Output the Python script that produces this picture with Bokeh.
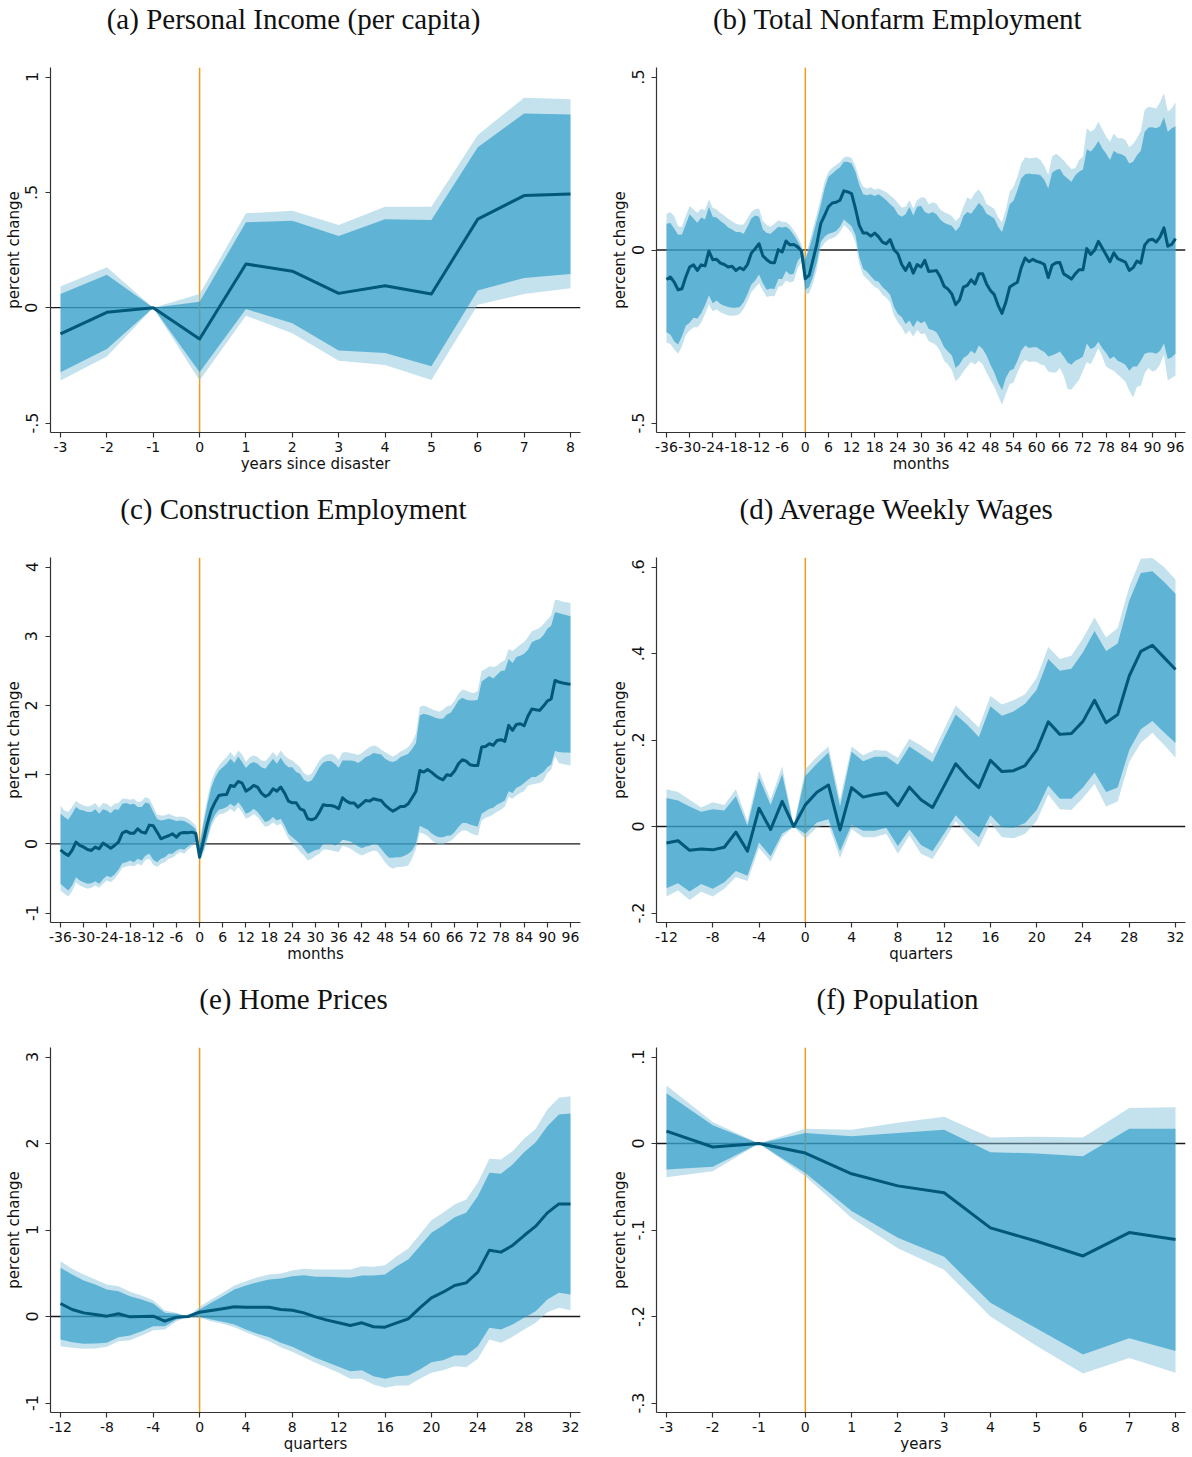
import math
from bokeh.plotting import figure
from bokeh.layouts import column, row
from bokeh.models import FixedTicker, CustomJSTickFormatter, Span, Range1d, Label
from bokeh.embed import file_html
from bokeh.resources import INLINE

# ---------------- data ----------------
years = list(range(-3, 9))
quarters = list(range(-12, 33))
months = list(range(-36, 97))

# (a) Personal Income (per capita), years
a_mean = [-0.114, -0.020, 0.0, -0.136, 0.189, 0.158, 0.062, 0.095, 0.059, 0.384, 0.486, 0.493]
a_iu = [0.059, 0.143, 0.0, 0.026, 0.370, 0.377, 0.311, 0.383, 0.380, 0.695, 0.842, 0.837]
a_ou = [0.092, 0.175, 0.0, 0.059, 0.409, 0.420, 0.358, 0.438, 0.438, 0.749, 0.910, 0.903]
a_il = [-0.280, -0.179, 0.0, -0.280, -0.006, -0.068, -0.186, -0.197, -0.254, 0.074, 0.129, 0.146]
a_ol = [-0.316, -0.212, 0.0, -0.316, -0.035, -0.111, -0.230, -0.249, -0.314, 0.013, 0.059, 0.084]

# (b) Total Nonfarm Employment, months
b_mean = [-0.085, -0.078, -0.093, -0.115, -0.112, -0.078, -0.049, -0.043, -0.059, -0.043, -0.046, -0.003,
          -0.028, -0.027, -0.038, -0.042, -0.049, -0.047, -0.059, -0.051, -0.057, -0.042, -0.009, 0.004,
          0.018, -0.017, -0.028, -0.036, -0.037, 0.001, -0.006, 0.026, 0.015, 0.016, 0.009, -0.003,
          -0.083, -0.073, -0.028, 0.018, 0.076, 0.100, 0.125, 0.136, 0.138, 0.144, 0.171, 0.168, 0.163,
          0.120, 0.071, 0.049, 0.049, 0.040, 0.049, 0.038, 0.023, 0.018, 0.030, 0.001, -0.011, -0.042,
          -0.059, -0.038, -0.067, -0.042, -0.049,
          -0.030, -0.062, -0.061, -0.059, -0.078, -0.105, -0.113, -0.127, -0.158, -0.144,
          -0.107, -0.102, -0.086, -0.098, -0.069, -0.069, -0.098, -0.117, -0.129, -0.160,
          -0.183, -0.151, -0.107, -0.100, -0.093, -0.051, -0.023, -0.034, -0.027, -0.033,
          -0.036, -0.042, -0.080, -0.044, -0.037, -0.036, -0.069, -0.076, -0.084, -0.069,
          -0.057, -0.057, 0.004, -0.013, -0.001, 0.025, 0.006, -0.014, -0.034, -0.008,
          -0.025, -0.030, -0.035, -0.059, -0.051, -0.032, -0.038, 0.014, 0.028, 0.031,
          0.023, 0.038, 0.064, 0.011, 0.016, 0.033]
b_iu = [0.076, 0.078, 0.062, 0.044, 0.045, 0.074, 0.103, 0.091, 0.079, 0.094, 0.088, 0.125,
        0.096, 0.094, 0.084, 0.076, 0.065, 0.059, 0.052, 0.052, 0.047, 0.067, 0.091, 0.100,
        0.096, 0.059, 0.049, 0.047, 0.057, 0.067, 0.065, 0.067, 0.059, 0.043, 0.026, 0.004,
        -0.028, 0.004, 0.043, 0.086, 0.129, 0.178, 0.212, 0.221, 0.231, 0.239, 0.255, 0.255, 0.250,
        0.226, 0.187, 0.161, 0.158, 0.161, 0.156, 0.161, 0.153, 0.144, 0.132, 0.123, 0.103, 0.096,
        0.103, 0.125, 0.100, 0.125, 0.128,
        0.110, 0.105, 0.110, 0.103, 0.088, 0.079, 0.074, 0.070, 0.055, 0.067,
        0.098, 0.110, 0.105, 0.120, 0.136, 0.125, 0.105, 0.098, 0.091, 0.067,
        0.052, 0.088, 0.132, 0.142, 0.173, 0.207, 0.219, 0.221, 0.219, 0.219,
        0.216, 0.202, 0.178, 0.223, 0.231, 0.235, 0.216, 0.207, 0.197, 0.216,
        0.226, 0.233, 0.291, 0.285, 0.297, 0.315, 0.294, 0.279, 0.260, 0.287,
        0.279, 0.277, 0.270, 0.250, 0.255, 0.274, 0.287, 0.342, 0.354, 0.355,
        0.352, 0.358, 0.384, 0.342, 0.352, 0.358]
b_ou = [0.105, 0.109, 0.098, 0.069, 0.067, 0.098, 0.127, 0.117, 0.107, 0.119, 0.115, 0.146,
        0.122, 0.117, 0.107, 0.100, 0.090, 0.083, 0.076, 0.073, 0.074, 0.091, 0.110, 0.118,
        0.120, 0.084, 0.072, 0.067, 0.076, 0.086, 0.082, 0.081, 0.072, 0.057, 0.040, 0.016,
        -0.020, 0.018, 0.062, 0.105, 0.149, 0.197, 0.226, 0.238, 0.246, 0.254, 0.268, 0.270, 0.266,
        0.243, 0.207, 0.183, 0.178, 0.181, 0.175, 0.178, 0.173, 0.167, 0.158, 0.149, 0.136, 0.123,
        0.125, 0.144, 0.120, 0.144, 0.152,
        0.152, 0.132, 0.138, 0.134, 0.117, 0.109, 0.105, 0.098, 0.083, 0.095,
        0.125, 0.152, 0.146, 0.165, 0.175, 0.159, 0.133, 0.126, 0.119, 0.095,
        0.080, 0.116, 0.168, 0.183, 0.212, 0.250, 0.268, 0.265, 0.266, 0.267,
        0.260, 0.243, 0.217, 0.270, 0.278, 0.270, 0.259, 0.246, 0.234, 0.236,
        0.260, 0.270, 0.352, 0.342, 0.349, 0.371, 0.349, 0.328, 0.313, 0.337,
        0.323, 0.324, 0.318, 0.297, 0.306, 0.323, 0.344, 0.405, 0.414, 0.412,
        0.409, 0.428, 0.453, 0.400, 0.409, 0.426]
b_il = [-0.238, -0.244, -0.264, -0.273, -0.250, -0.219, -0.210, -0.196, -0.198, -0.183, -0.160, -0.131,
        -0.154, -0.146, -0.156, -0.161, -0.165, -0.167, -0.167, -0.165, -0.151, -0.127, -0.100, -0.088,
        -0.071, -0.096, -0.115, -0.111, -0.113, -0.084, -0.084, -0.061, -0.071, -0.069, -0.032, -0.018,
        -0.115, -0.107, -0.076, -0.035, 0.023, 0.038, 0.047, 0.050, 0.055, 0.067, 0.088, 0.078, 0.069,
        0.043, -0.020, -0.054, -0.063, -0.076, -0.088, -0.092, -0.107, -0.117, -0.129, -0.165, -0.185,
        -0.194, -0.214, -0.204, -0.223, -0.204, -0.212,
        -0.206, -0.228, -0.231, -0.238, -0.257, -0.281, -0.293, -0.305, -0.341, -0.330,
        -0.312, -0.305, -0.291, -0.300, -0.276, -0.286, -0.305, -0.332, -0.354, -0.383,
        -0.405, -0.370, -0.349, -0.344, -0.320, -0.291, -0.276, -0.283, -0.281, -0.281,
        -0.289, -0.295, -0.308, -0.304, -0.300, -0.293, -0.308, -0.325, -0.332, -0.320,
        -0.315, -0.308, -0.270, -0.286, -0.281, -0.265, -0.283, -0.298, -0.315, -0.308,
        -0.320, -0.325, -0.332, -0.349, -0.337, -0.337, -0.320, -0.300, -0.296, -0.296,
        -0.300, -0.291, -0.270, -0.315, -0.310, -0.300]
b_ol = [-0.267, -0.272, -0.287, -0.300, -0.279, -0.246, -0.233, -0.223, -0.223, -0.210, -0.185, -0.157,
        -0.177, -0.171, -0.180, -0.185, -0.189, -0.190, -0.189, -0.185, -0.170, -0.148, -0.122, -0.109,
        -0.096, -0.117, -0.136, -0.133, -0.134, -0.107, -0.103, -0.088, -0.094, -0.090, -0.054, -0.035,
        -0.127, -0.125, -0.096, -0.054, 0.004, 0.020, 0.030, 0.034, 0.040, 0.052, 0.072, 0.062, 0.049,
        0.023, -0.040, -0.073, -0.083, -0.096, -0.107, -0.113, -0.129, -0.138, -0.152, -0.189, -0.209,
        -0.223, -0.244, -0.233, -0.250, -0.231, -0.243,
        -0.241, -0.264, -0.269, -0.276, -0.293, -0.320, -0.331, -0.347, -0.380, -0.368,
        -0.351, -0.337, -0.324, -0.331, -0.320, -0.331, -0.354, -0.376, -0.395, -0.421,
        -0.447, -0.416, -0.387, -0.383, -0.354, -0.330, -0.317, -0.324, -0.322, -0.324,
        -0.331, -0.334, -0.351, -0.354, -0.354, -0.341, -0.363, -0.402, -0.404, -0.389,
        -0.375, -0.349, -0.324, -0.330, -0.308, -0.283, -0.308, -0.337, -0.344, -0.349,
        -0.360, -0.370, -0.380, -0.407, -0.426, -0.395, -0.392, -0.356, -0.341, -0.351,
        -0.347, -0.330, -0.302, -0.377, -0.370, -0.363]

# (c) Construction Employment, months
c_mean = [-0.087, -0.135, -0.169, -0.096, 0.024, -0.024, -0.048, -0.082, -0.096, -0.048, -0.072, 0.010,
          -0.024, -0.063, -0.024, 0.024, 0.154, 0.183, 0.154, 0.154, 0.217, 0.169, 0.154, 0.270,
          0.260, 0.169, 0.072, 0.096, 0.116, 0.145, 0.096, 0.154, 0.164, 0.159, 0.169, 0.150,
          -0.193, 0.048, 0.289, 0.482, 0.602, 0.699, 0.708, 0.713, 0.843, 0.829, 0.901, 0.877, 0.761,
          0.795, 0.843, 0.819, 0.733, 0.684, 0.713, 0.795, 0.761, 0.819, 0.733, 0.617, 0.593, 0.593,
          0.506, 0.482, 0.361, 0.347, 0.370,
          0.458, 0.564, 0.554, 0.554, 0.540, 0.506, 0.665, 0.617, 0.588, 0.588,
          0.530, 0.578, 0.627, 0.617, 0.651, 0.636, 0.627, 0.559, 0.511, 0.472,
          0.501, 0.540, 0.540, 0.578, 0.665, 0.761, 1.060, 1.036, 1.075, 1.036,
          0.988, 0.949, 0.925, 0.998, 0.988, 1.051, 1.157, 1.214, 1.195, 1.142,
          1.133, 1.133, 1.398, 1.407, 1.446, 1.422, 1.494, 1.504, 1.480, 1.711,
          1.639, 1.725, 1.735, 1.706, 1.846, 1.947, 1.937, 1.928, 1.990, 2.063,
          2.092, 2.361, 2.337, 2.323, 2.313, 2.304]
c_iu = [0.434, 0.386, 0.347, 0.434, 0.530, 0.492, 0.482, 0.458, 0.458, 0.501, 0.434, 0.501,
        0.482, 0.443, 0.501, 0.492, 0.578, 0.588, 0.569, 0.578, 0.530, 0.530, 0.598, 0.578,
        0.463, 0.357, 0.337, 0.347, 0.361, 0.347, 0.328, 0.337, 0.328, 0.299, 0.260, 0.210,
        -0.024, 0.280, 0.569, 0.810, 0.954, 1.051, 1.108, 1.157, 1.229, 1.166, 1.263, 1.181, 1.094,
        1.157, 1.181, 1.157, 1.108, 1.084, 1.157, 1.229, 1.157, 1.243, 1.157, 1.108, 1.108, 1.036,
        1.012, 0.925, 0.892, 0.916, 1.000,
        1.108, 1.176, 1.195, 1.195, 1.157, 1.099, 1.205, 1.205, 1.205, 1.195,
        1.166, 1.205, 1.253, 1.277, 1.311, 1.301, 1.292, 1.229, 1.195, 1.181,
        1.205, 1.253, 1.277, 1.301, 1.369, 1.455, 1.855, 1.880, 1.865, 1.846,
        1.822, 1.807, 1.807, 1.870, 1.894, 1.976, 2.072, 2.111, 2.082, 2.072,
        2.072, 2.082, 2.347, 2.386, 2.424, 2.390, 2.443, 2.496, 2.506, 2.670,
        2.612, 2.699, 2.718, 2.747, 2.805, 2.911, 2.940, 2.959, 3.012, 3.108,
        3.152, 3.345, 3.335, 3.316, 3.301, 3.287]
c_ou = [0.554, 0.482, 0.458, 0.530, 0.617, 0.578, 0.554, 0.540, 0.554, 0.588, 0.520, 0.588,
        0.578, 0.530, 0.578, 0.588, 0.651, 0.651, 0.636, 0.651, 0.602, 0.617, 0.675, 0.651,
        0.540, 0.424, 0.410, 0.410, 0.434, 0.410, 0.386, 0.395, 0.386, 0.361, 0.320, 0.260,
        0.010, 0.361, 0.651, 0.892, 1.036, 1.133, 1.195, 1.253, 1.325, 1.253, 1.349, 1.292, 1.181,
        1.253, 1.277, 1.253, 1.205, 1.195, 1.253, 1.325, 1.263, 1.349, 1.277, 1.229, 1.205, 1.157,
        1.108, 1.022, 0.988, 1.012, 1.110,
        1.205, 1.263, 1.292, 1.301, 1.277, 1.214, 1.320, 1.325, 1.311, 1.301,
        1.282, 1.311, 1.359, 1.398, 1.422, 1.407, 1.359, 1.325, 1.292, 1.263,
        1.292, 1.335, 1.359, 1.398, 1.470, 1.590, 1.976, 2.000, 1.976, 1.947,
        1.928, 1.908, 1.937, 1.986, 2.000, 2.072, 2.169, 2.227, 2.217, 2.188,
        2.178, 2.207, 2.496, 2.525, 2.564, 2.554, 2.573, 2.622, 2.651, 2.814,
        2.786, 2.834, 2.877, 2.916, 2.988, 3.070, 3.094, 3.123, 3.171, 3.239,
        3.301, 3.528, 3.518, 3.499, 3.489, 3.480]
c_il = [-0.578, -0.627, -0.675, -0.602, -0.482, -0.530, -0.554, -0.578, -0.569, -0.540, -0.578, -0.511,
        -0.463, -0.482, -0.443, -0.376, -0.280, -0.265, -0.241, -0.265, -0.217, -0.241, -0.169, -0.145,
        -0.231, -0.265, -0.217, -0.193, -0.145, -0.145, -0.096, -0.072, -0.087, -0.039, 0.000, 0.030,
        -0.202, -0.096, 0.087, 0.304, 0.424, 0.492, 0.506, 0.530, 0.578, 0.540, 0.602, 0.530, 0.434,
        0.458, 0.506, 0.458, 0.386, 0.313, 0.337, 0.386, 0.337, 0.361, 0.265, 0.145, 0.096, 0.048,
        0.000, -0.072, -0.145, -0.120, -0.090,
        -0.077, 0.000, 0.000, 0.000, -0.024, 0.000, 0.058, 0.048, 0.034, 0.000,
        -0.034, -0.063, -0.039, -0.029, 0.000, -0.010, -0.072, -0.145, -0.202, -0.202,
        -0.193, -0.193, -0.173, -0.145, -0.096, 0.000, 0.260, 0.231, 0.207, 0.154,
        0.116, 0.096, 0.096, 0.116, 0.120, 0.169, 0.241, 0.299, 0.299, 0.280,
        0.260, 0.251, 0.434, 0.472, 0.506, 0.520, 0.569, 0.593, 0.627, 0.761,
        0.733, 0.810, 0.834, 0.877, 0.925, 0.964, 0.964, 1.002, 1.036, 1.108,
        1.147, 1.340, 1.325, 1.320, 1.320, 1.316]
c_ol = [-0.675, -0.723, -0.761, -0.684, -0.554, -0.602, -0.627, -0.651, -0.636, -0.602, -0.636, -0.578,
        -0.530, -0.554, -0.506, -0.434, -0.347, -0.328, -0.313, -0.328, -0.289, -0.313, -0.231, -0.217,
        -0.304, -0.337, -0.289, -0.265, -0.217, -0.202, -0.154, -0.120, -0.145, -0.087, -0.040, 0.000,
        -0.241, -0.145, 0.048, 0.241, 0.361, 0.424, 0.434, 0.458, 0.506, 0.458, 0.530, 0.458, 0.361,
        0.386, 0.434, 0.386, 0.313, 0.241, 0.265, 0.313, 0.265, 0.289, 0.193, 0.072, 0.000, -0.048,
        -0.120, -0.169, -0.241, -0.217, -0.175,
        -0.145, -0.082, -0.082, -0.096, -0.106, -0.120, -0.029, -0.048, -0.067, -0.106,
        -0.145, -0.169, -0.145, -0.120, -0.096, -0.111, -0.183, -0.265, -0.328, -0.361,
        -0.337, -0.337, -0.328, -0.313, -0.217, -0.072, 0.164, 0.145, 0.111, 0.058,
        0.010, -0.019, -0.010, 0.019, 0.039, 0.096, 0.154, 0.193, 0.193, 0.159,
        0.135, 0.116, 0.337, 0.376, 0.395, 0.424, 0.463, 0.492, 0.540, 0.675,
        0.651, 0.699, 0.733, 0.761, 0.843, 0.858, 0.867, 0.877, 0.916, 1.022,
        1.070, 1.263, 1.166, 1.152, 1.142, 1.133]

# (d) Average Weekly Wages, quarters
d_mean = [-0.038, -0.033, -0.055, -0.052, -0.054, -0.048, -0.013, -0.057, 0.042, -0.007, 0.058, 0.000,
          0.050, 0.079, 0.096, -0.008, 0.090, 0.068, 0.074, 0.078, 0.048, 0.091,
          0.062, 0.044, 0.094, 0.145, 0.115, 0.090, 0.153, 0.127, 0.129, 0.141,
          0.177, 0.242, 0.213, 0.215, 0.243, 0.292, 0.240, 0.259, 0.348, 0.405,
          0.419, 0.391, 0.363]
d_iu = [0.066, 0.060, 0.046, 0.034, 0.040, 0.037, 0.070, 0.002, 0.113, 0.050, 0.121, 0.000,
        0.117, 0.145, 0.171, 0.046, 0.173, 0.151, 0.161, 0.161, 0.143, 0.185,
        0.167, 0.149, 0.205, 0.259, 0.235, 0.207, 0.278, 0.256, 0.266, 0.284,
        0.316, 0.387, 0.360, 0.365, 0.403, 0.452, 0.406, 0.423, 0.522, 0.586,
        0.590, 0.566, 0.538]
d_ou = [0.086, 0.080, 0.062, 0.044, 0.056, 0.050, 0.086, 0.012, 0.129, 0.062, 0.139, 0.000,
        0.133, 0.161, 0.185, 0.062, 0.185, 0.165, 0.177, 0.175, 0.159, 0.203,
        0.187, 0.169, 0.225, 0.280, 0.255, 0.229, 0.302, 0.282, 0.292, 0.306,
        0.344, 0.415, 0.387, 0.395, 0.435, 0.483, 0.437, 0.459, 0.554, 0.619,
        0.621, 0.600, 0.571]
d_il = [-0.143, -0.131, -0.150, -0.133, -0.144, -0.129, -0.103, -0.114, -0.037, -0.069, -0.016, 0.000,
        -0.017, 0.009, 0.017, -0.057, 0.004, -0.010, -0.010, -0.003, -0.045, -0.007,
        -0.043, -0.057, -0.016, 0.026, -0.003, -0.025, 0.026, -0.002, -0.003, 0.008,
        0.038, 0.094, 0.064, 0.064, 0.090, 0.125, 0.080, 0.090, 0.177, 0.225,
        0.244, 0.218, 0.193]
d_ol = [-0.162, -0.148, -0.170, -0.151, -0.162, -0.144, -0.117, -0.126, -0.049, -0.081, -0.025, 0.000,
        -0.029, -0.002, 0.005, -0.073, -0.006, -0.025, -0.025, -0.017, -0.063, -0.021,
        -0.063, -0.075, -0.033, 0.012, -0.019, -0.048, 0.008, -0.025, -0.027, -0.017,
        0.013, 0.074, 0.040, 0.038, 0.066, 0.099, 0.046, 0.058, 0.149, 0.193,
        0.217, 0.189, 0.159]

# (e) Home Prices, quarters
e_mean = [0.150, 0.081, 0.042, 0.023, 0.004, 0.031, -0.004, 0.000, 0.004, -0.054, -0.008, 0.000,
          0.050, 0.069, 0.089, 0.112, 0.108, 0.108, 0.108, 0.081, 0.073, 0.042,
          -0.004, -0.042, -0.073, -0.104, -0.073, -0.119, -0.123, -0.073, -0.027, 0.100,
          0.216, 0.281, 0.358, 0.389, 0.513, 0.767, 0.744, 0.821, 0.936, 1.044,
          1.198, 1.302, 1.302]
e_iu = [0.563, 0.486, 0.416, 0.370, 0.312, 0.293, 0.235, 0.197, 0.150, 0.042, 0.031, 0.000,
        0.081, 0.158, 0.235, 0.312, 0.358, 0.397, 0.428, 0.439, 0.466, 0.478,
        0.459, 0.459, 0.455, 0.447, 0.474, 0.474, 0.486, 0.582, 0.659, 0.813,
        0.967, 1.052, 1.148, 1.198, 1.391, 1.661, 1.649, 1.757, 1.900, 2.015,
        2.200, 2.335, 2.347]
e_ou = [0.640, 0.551, 0.486, 0.428, 0.370, 0.351, 0.285, 0.243, 0.189, 0.069, 0.042, 0.000,
        0.112, 0.197, 0.274, 0.358, 0.408, 0.455, 0.486, 0.497, 0.532, 0.551,
        0.543, 0.543, 0.543, 0.543, 0.582, 0.574, 0.593, 0.697, 0.782, 0.948,
        1.114, 1.198, 1.295, 1.353, 1.545, 1.823, 1.815, 1.911, 2.054, 2.170,
        2.393, 2.528, 2.547]
e_il = [-0.266, -0.297, -0.316, -0.312, -0.304, -0.239, -0.220, -0.170, -0.112, -0.112, -0.035, 0.000,
        -0.004, -0.035, -0.062, -0.092, -0.150, -0.200, -0.239, -0.304, -0.351, -0.412,
        -0.478, -0.528, -0.582, -0.632, -0.620, -0.690, -0.721, -0.690, -0.682, -0.613,
        -0.528, -0.505, -0.451, -0.447, -0.343, -0.131, -0.150, -0.092, -0.015, 0.062,
        0.197, 0.274, 0.254]
e_ol = [-0.343, -0.362, -0.374, -0.370, -0.351, -0.285, -0.274, -0.220, -0.158, -0.150, -0.054, 0.000,
        -0.015, -0.054, -0.085, -0.123, -0.181, -0.235, -0.285, -0.355, -0.408, -0.470,
        -0.536, -0.593, -0.651, -0.721, -0.721, -0.786, -0.825, -0.798, -0.798, -0.721,
        -0.651, -0.620, -0.574, -0.586, -0.489, -0.266, -0.304, -0.235, -0.150, -0.073,
        0.050, 0.100, 0.073]

# (f) Population, years
f_mean = [0.0143, -0.004, 0.0, -0.011, -0.035, -0.049, -0.057, -0.0975, -0.113, -0.130, -0.103, -0.111]
f_iu = [0.058, 0.021, 0.0, 0.012, 0.0085, 0.012, 0.016, -0.010, -0.0115, -0.0146, 0.017, 0.017]
f_ou = [0.067, 0.025, 0.0, 0.017, 0.016, 0.024, 0.031, 0.007, 0.0077, 0.007, 0.041, 0.042]
f_il = [-0.030, -0.027, 0.0, -0.034, -0.078, -0.109, -0.131, -0.184, -0.214, -0.244, -0.225, -0.240]
f_ol = [-0.039, -0.032, 0.0, -0.038, -0.086, -0.121, -0.146, -0.200, -0.234, -0.266, -0.248, -0.265]

# tick values
year_ticks = list(range(-3, 9))
month_ticks = list(range(-36, 97, 6))
quarter_ticks = list(range(-12, 33, 4))
a_yticks = [-0.5, 0, 0.5, 1]
b_yticks = [-0.5, 0, 0.5]
c_yticks = [-1, 0, 1, 2, 3, 4]
d_yticks = [-0.2, 0, 0.2, 0.4, 0.6]
e_yticks = [-1, 0, 1, 2, 3]
f_yticks = [-0.3, -0.2, -0.1, 0, 0.1]

titles = ["(a) Personal Income (per capita)", "(b) Total Nonfarm Employment",
          "(c) Construction Employment", "(d) Average Weekly Wages",
          "(e) Home Prices", "(f) Population"]
xlabels = ["years since disaster", "months", "months", "quarters", "quarters", "years"]
ylabel = "percent change"

for arr in (b_mean, b_iu, b_ou, b_il, b_ol, c_mean, c_iu, c_ou, c_il, c_ol):
    assert len(arr) == len(months), len(arr)
for arr in (d_mean, d_iu, d_ou, d_il, d_ol, e_mean, e_iu, e_ou, e_il, e_ol):
    assert len(arr) == len(quarters), len(arr)

# ---------------- styling ----------------
OUTER = "#89C5DD"
INNER = "#1C95C3"
MEANC = "#00587A"
ORANGE = "#F39A1C"
AXISC = "#333333"
TEXTC = "#111111"
PANEL_W = 596
TITLE_H = 40

fmt_code = """
let s = String(Math.round(tick * 1000) / 1000);
if (s.startsWith('0.')) { s = s.slice(1); }
else if (s.startsWith('-0.')) { s = '-' + s.slice(2); }
return s;
"""


def pad(lo, hi, frac):
    d = (hi - lo) * frac
    return lo - d, hi + d


def title_strip(title, left_col):
    t = figure(width=PANEL_W, height=TITLE_H, x_range=Range1d(0, 1), y_range=Range1d(0, 1),
               output_backend="svg", toolbar_location=None, min_border=0,
               x_axis_location=None, y_axis_location=None)
    t.title.visible = False
    t.xgrid.visible = False
    t.ygrid.visible = False
    t.outline_line_color = None
    # the strip's frame lines up with the plot frame below it
    t.add_layout(Label(x=243 if left_col else 241, y=TITLE_H - 18, x_units="screen", y_units="screen",
                       text=title, text_font="Liberation Serif", text_font_size="29px",
                       text_color=TEXTC, text_align="center", text_baseline="middle"))
    return t


def panel(xlabel, x, mean, iu, ou, il, ol, xticks, yticks, left_col, last_row):
    mbl = 50 if left_col else 60
    mbr = 16 if left_col else 7
    height = (477 if last_row else 490) - TITLE_H
    mbt = 67 - TITLE_H
    mbb = 45 if last_row else 58
    x0, x1 = pad(xticks[0], xticks[-1], 10.0 / 510.0)
    y0, y1 = pad(yticks[0], yticks[-1], 9.5 / 346.0)

    p = figure(width=PANEL_W, height=height, x_range=Range1d(x0, x1), y_range=Range1d(y0, y1),
               output_backend="svg", toolbar_location=None,
               min_border_left=mbl, min_border_right=mbr, min_border_top=mbt, min_border_bottom=mbb)
    p.title.visible = False
    p.xgrid.visible = False
    p.ygrid.visible = False
    p.outline_line_color = None

    p.add_layout(Span(location=0, dimension="width", line_color="#1a1a1a", line_width=1.3, level="underlay"))
    p.add_layout(Span(location=0, dimension="height", line_color=ORANGE, line_width=1.5, level="underlay"))

    p.varea(x=x, y1=ol, y2=ou, fill_color=OUTER, fill_alpha=0.5)
    p.varea(x=x, y1=il, y2=iu, fill_color=INNER, fill_alpha=0.6)
    p.line(x=x, y=mean, line_color=MEANC, line_width=3, line_join="round")

    p.xaxis.ticker = FixedTicker(ticks=xticks)
    p.yaxis.ticker = FixedTicker(ticks=yticks)
    p.xaxis.formatter = CustomJSTickFormatter(code=fmt_code)
    p.yaxis.formatter = CustomJSTickFormatter(code=fmt_code)
    p.yaxis.major_label_orientation = "vertical"
    for ax in (p.xaxis[0], p.yaxis[0]):
        ax.axis_line_color = AXISC
        ax.axis_line_width = 1.2
        ax.major_tick_line_color = AXISC
        ax.major_tick_line_width = 1.2
        ax.major_tick_out = 5
        ax.major_tick_in = 0
        ax.minor_tick_line_color = None
        ax.major_label_text_font = "DejaVu Sans"
        ax.major_label_text_color = TEXTC
        ax.axis_label_text_font = "DejaVu Sans"
        ax.axis_label_text_font_size = "15px"
        ax.axis_label_text_font_style = "normal"
        ax.axis_label_text_color = TEXTC
    p.xaxis.major_label_text_font_size = "14px"
    p.xaxis.major_label_standoff = 4
    p.xaxis.axis_label_standoff = 0
    p.yaxis.major_label_text_font_size = "16px"
    p.yaxis.major_label_standoff = 8
    p.yaxis.axis_label_standoff = 0
    p.xaxis.axis_label = xlabel
    p.yaxis.axis_label = ylabel
    return p


cells = []
specs = [
    (xlabels[0], years, a_mean, a_iu, a_ou, a_il, a_ol, year_ticks, a_yticks),
    (xlabels[1], months, b_mean, b_iu, b_ou, b_il, b_ol, month_ticks, b_yticks),
    (xlabels[2], months, c_mean, c_iu, c_ou, c_il, c_ol, month_ticks, c_yticks),
    (xlabels[3], quarters, d_mean, d_iu, d_ou, d_il, d_ol, quarter_ticks, d_yticks),
    (xlabels[4], quarters, e_mean, e_iu, e_ou, e_il, e_ol, quarter_ticks, e_yticks),
    (xlabels[5], years, f_mean, f_iu, f_ou, f_il, f_ol, year_ticks, f_yticks),
]
for i, spec in enumerate(specs):
    left_col = (i % 2 == 0)
    last_row = (i >= 4)
    cells.append(column(title_strip(titles[i], left_col), panel(*spec, left_col, last_row)))

layout = column(row(cells[0], cells[1]), row(cells[2], cells[3]), row(cells[4], cells[5]))

open("out.html", "w").write(file_html(layout, INLINE))
